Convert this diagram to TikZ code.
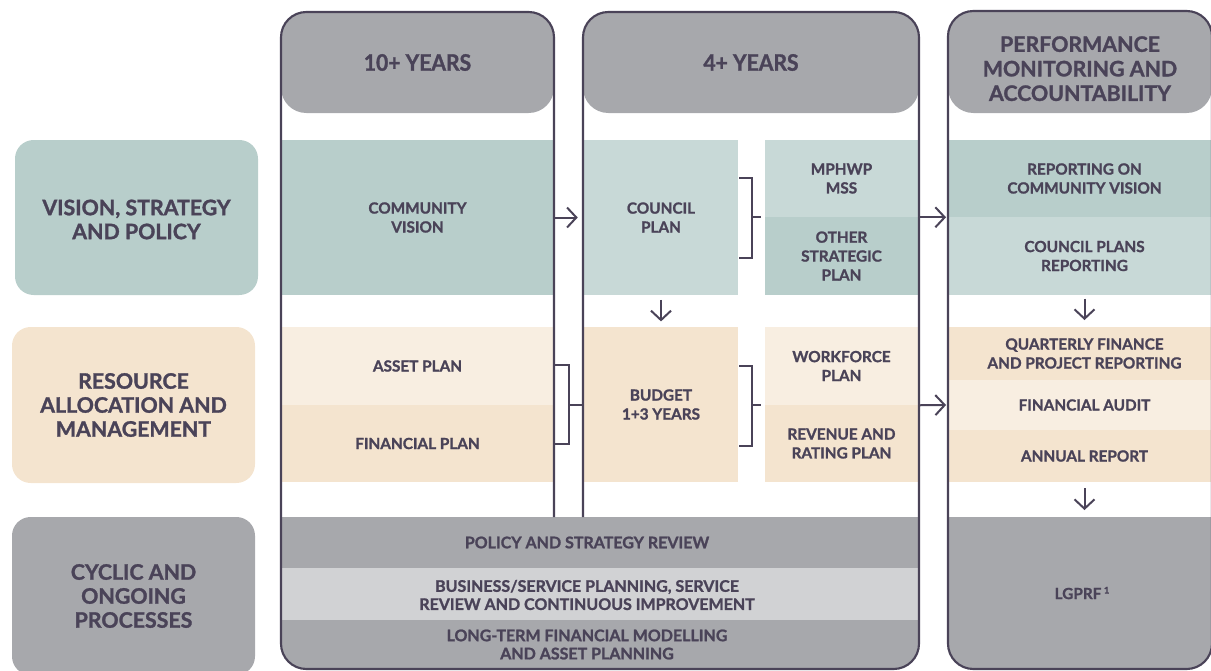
\documentclass[tikz,border=0pt]{standalone}
\usepackage{fontspec}
\setmainfont{Lato}[BoldFeatures={FakeBold=1.3}]
\newfontfamily\condfont[FakeStretch=0.93,BoldFeatures={FakeBold=1.3}]{Lato}
\usetikzlibrary{arrows.meta,fit,calc}
\definecolor{ink}{HTML}{4A4358}
\definecolor{tealD}{HTML}{B8CECB}
\definecolor{tealL}{HTML}{C8D9D7}
\definecolor{peachL}{HTML}{F8EEE1}
\definecolor{peachD}{HTML}{F4E4CF}
\definecolor{grayM}{HTML}{A7A8AC}
\definecolor{grayL}{HTML}{D1D2D4}
% #1 name, #2 top-left, #3 bottom-right, #4 box style, #5 text style, #6 text
\newcommand{\cellbox}[6]{%
  \node[fit={(#2)(#3)}, inner sep=0pt, draw=none, #4] (#1) {};
  \node[#5] (#1t) at (#1.center) {#6};}
\begin{document}
\begin{tikzpicture}[x=0.75pt,y=-0.75pt,
  txt/.style={inner sep=0pt, align=center, text=ink,
    font=\bfseries\fontsize{11.5pt}{14.2pt}\selectfont},
  rowtxt/.style={inner sep=0pt, align=center, text=ink,
    font=\bfseries\fontsize{16pt}{18pt}\selectfont},
  hdrtxt/.style={inner sep=0pt, align=center, text=ink,
    font=\condfont\bfseries\fontsize{17pt}{20pt}\selectfont},
  hdr3txt/.style={inner sep=0pt, align=center, text=ink, yshift=-5pt,
    font=\bfseries\fontsize{16pt}{18.4pt}\selectfont},
  condtxt/.style={inner sep=0pt, align=center, text=ink,
    font=\bfseries\fontsize{12pt}{13.6pt}\selectfont},
  rowbox/.style={rounded corners=14pt},
  hdrbox/.style={fill=grayM, rounded corners=19pt},
  frame/.style={draw=ink, line width=1.6pt},
  brk/.style={draw=ink, line width=1.5pt},
  arr/.style={draw=ink, line width=1.5pt, -{Straight Barb[length=7pt,width=15pt,line width=1.5pt]}}
]
\useasboundingbox (0,0) rectangle (1211,671);

% row labels
\cellbox{vsp}{15,140}{258,295}{rowbox, fill=tealD}{rowtxt, yshift=-1.5pt}{VISION, STRATEGY\\AND POLICY}
\cellbox{ram}{12,327}{255,483}{rowbox, fill=peachD}{rowtxt}{RESOURCE\\ALLOCATION AND\\MANAGEMENT}
\node[fit={(12,517)(255,675)}, inner sep=0pt, rowbox, fill=grayM] (cop) {};
\node[rowtxt] (copt) at (cop.center) {CYCLIC AND\\ONGOING\\PROCESSES};

% headers columns 1 and 2
\cellbox{h1}{281,12}{554,113}{hdrbox}{hdrtxt}{10+ YEARS}
\cellbox{h2}{583,12}{919,113}{hdrbox}{hdrtxt}{4+ YEARS}

% vision row
\cellbox{cv}{282,140}{553,295}{fill=tealD}{txt}{COMMUNITY\\VISION}
\cellbox{cp}{584,140}{738,295}{fill=tealL}{txt}{COUNCIL\\PLAN}
\cellbox{mss}{765,140}{918,217}{fill=tealL}{txt}{MPHWP\\MSS}
\cellbox{osp}{765,217}{918,295}{fill=tealD}{txt}{OTHER\\STRATEGIC\\PLAN}

% resource row
\cellbox{ap}{282,327}{553,405}{fill=peachL}{txt}{ASSET PLAN}
\cellbox{fp}{282,405}{553,482}{fill=peachD}{txt}{FINANCIAL PLAN}
\cellbox{bud}{584,327}{738,482}{fill=peachD}{txt}{BUDGET\\1+3 YEARS}
\cellbox{wf}{765,327}{918,405}{fill=peachL}{txt}{WORKFORCE\\PLAN}
\cellbox{rr}{765,405}{918,482}{fill=peachD}{txt}{REVENUE AND\\RATING PLAN}

% cyclic bands in columns 1-2
\begin{scope}
\clip[rounded corners=19pt] (281,12) rectangle (919,669);
\node[fit={(281,517)(919,568)}, inner sep=0pt, fill=grayM] (psr) {};
\node[condtxt] (psrt) at (587,542.5) {POLICY AND STRATEGY REVIEW};
\node[fit={(281,568)(919,620)}, inner sep=0pt, fill=grayL] (bsp) {};
\node[condtxt] (bspt) at (587,595) {BUSINESS/SERVICE PLANNING, SERVICE\\REVIEW AND CONTINUOUS IMPROVEMENT};
\node[fit={(281,620)(919,672)}, inner sep=0pt, fill=grayM] (ltf) {};
\node[condtxt] (ltft) at (587,644.5) {LONG-TERM FINANCIAL MODELLING\\AND ASSET PLANNING};
\end{scope}

% frame columns 1-2
\draw[frame, rounded corners=19pt] (554,517) -- (554,12) -- (281,12) -- (281,669) -- (919,669) -- (919,12) -- (583,12) -- (583,517);

% column 3
\begin{scope}
\clip[rounded corners=19pt] (948,11) rectangle (1212,669);
\cellbox{rcv}{949,140}{1220,217}{fill=tealD}{txt}{REPORTING ON\\COMMUNITY VISION}
\cellbox{cpr}{949,217}{1220,295}{fill=tealL}{txt}{COUNCIL PLANS\\REPORTING}
\cellbox{qf}{949,327}{1220,380}{fill=peachD}{txt}{QUARTERLY FINANCE\\AND PROJECT REPORTING}
\cellbox{fa}{949,380}{1220,430}{fill=peachL}{txt}{FINANCIAL AUDIT}
\cellbox{ar}{949,430}{1220,482}{fill=peachD}{txt}{ANNUAL REPORT}
\node[fit={(949,517)(1220,669)}, inner sep=0pt, fill=grayM] (lg) {};
\node[txt] (lgt) at (1082,593) {LGPRF\,\raisebox{0.7ex}{\fontsize{7pt}{8pt}\selectfont 1}};
\end{scope}
\cellbox{h3}{948,11}{1212,113}{hdrbox}{hdr3txt}{PERFORMANCE\\MONITORING AND\\ACCOUNTABILITY}
\draw[frame, rounded corners=19pt] (948,11) rectangle (1212,669);

% brackets
\draw[brk] (739,178) -- (752,178) -- (752,258) -- (739,258);
\draw[brk] (752,217) -- (761,217);
\draw[brk] (554,365) -- (569,365) -- (569,444) -- (554,444);
\draw[brk] (569,405) -- (582,405);
\draw[brk] (739,366) -- (752,366) -- (752,446) -- (739,446);
\draw[brk] (752,405) -- (761,405);

% arrows
\draw[arr, shorten >=4.5pt] (cv.east) -- (cp.west);
\draw[arr, shorten <=3.5pt, shorten >=4pt] (cp.south) -- (bud.north);
\draw[arr, shorten >=2pt] (mss.south east) -- (rcv.south west);
\draw[arr, shorten >=2pt] (wf.south east) -- (fa.west);
\draw[arr, shorten <=2.5pt, shorten >=5pt] (cpr.south) -- (qf.north);
\draw[arr, shorten <=4.5pt, shorten >=5pt] (ar.south) -- (lg.north);
\end{tikzpicture}
\end{document}
